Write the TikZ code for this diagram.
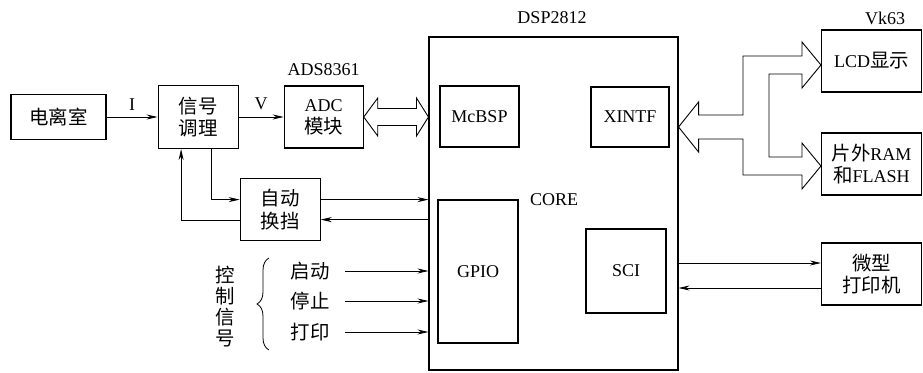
\documentclass[tikz,border=0pt]{standalone}
\usepackage{fontspec}
\setmainfont{Liberation Serif}
\newfontfamily\cjk{Noto Sans CJK SC}[Scale=1.08]
\usetikzlibrary{positioning,arrows.meta,decorations.pathreplacing}

\begin{document}
\begin{tikzpicture}[
  x=1pt, y=-1pt,
  font=\fontsize{18}{22}\selectfont,
  box/.style={draw, line width=1.1pt, align=center, inner sep=2pt},
  cn/.style={font=\fontsize{18}{22}\selectfont\cjk},
  arr/.style={-{Stealth[length=11pt,width=5pt]}, line width=0.8pt},
  bus/.style={draw, line width=0.9pt, line join=miter},
  ctlbrace/.style={decorate, decoration={brace, amplitude=12pt}, line width=0.8pt}
]
\useasboundingbox (0,0) rectangle (923,372);

% signal chain
\node[box, cn, minimum width=95pt, minimum height=45pt] (ion) at (58.5,117) {电离室};
\node[box, cn, minimum width=80pt, minimum height=63pt, right=51pt of ion] (cond) {信号\\调理};
\node[box, minimum width=79pt, minimum height=62pt, right=45pt of cond] (adc) {ADC\\{\cjk 模块}};
\node[above=6pt of adc] (adslbl) {ADS8361};
\node[box, cn, minimum width=80pt, minimum height=62pt, below right=29pt and 1pt of cond] (auto) {自动\\换挡};

% DSP
\node[box, minimum width=249pt, minimum height=333pt] (dsp) at (553.5,203.5) {};
\node (dsplbl) at (552,18) {DSP2812};
\node[box, minimum width=79pt, minimum height=61pt] (mcbsp) at (479.5,116.5) {McBSP};
\node[box, minimum width=78pt, minimum height=60pt] (xintf) at (630,117) {XINTF};
\node[box, minimum width=80pt, minimum height=143pt] (gpio) at (478,271.5) {GPIO};
\node[box, minimum width=80pt, minimum height=84pt] (sci) at (626,271) {SCI};
\node[right=8pt of gpio.north east] (core) {CORE};

% peripherals
\node[box, minimum width=100pt, minimum height=62pt] (lcd) at (871.5,61) {LCD{\cjk 显示}};
\node (vklbl) at (885,18) {Vk63};
\node[box, minimum width=100pt, minimum height=62pt] (ram) at (871.5,164) {{\cjk 片外}RAM\\{\cjk 和}FLASH};
\node[box, cn, minimum width=100pt, minimum height=62pt] (prn) at (871.5,274) {微型\\打印机};

% control signals
\node[cn, align=center, font=\fontsize{18}{21}\selectfont\cjk] (ctl) at (225,307) {控\\制\\信\\号};
\node[cn] (st) at (310,271) {启动};
\node[cn] (sp) at (310,301) {停止};
\node[cn] (pr) at (310,332) {打印};
\draw[ctlbrace] (269,350) -- (269,258);

\draw[arr] (ion) -- (cond) node[midway, above=3pt] {I};
\draw[arr] (cond) -- (adc) node[midway, above=3pt] {V};
\draw[arr] ([xshift=13pt]cond.south) |- ([yshift=10pt]auto.west);
\draw[arr] ([yshift=-11pt]auto.west) -| ([xshift=-17pt]cond.south);

\coordinate (a1) at ([yshift=10pt]auto.east);
\coordinate (a2) at ([yshift=-10pt]auto.east);
\draw[arr] (a1) -- (a1 -| dsp.west);
\draw[arr] (a2 -| dsp.west) -- (a2);

\draw[arr] ([xshift=12pt]st.east) -- (st -| dsp.west);
\draw[arr] ([xshift=12pt]sp.east) -- (sp -| dsp.west);
\draw[arr] ([xshift=12pt]pr.east) -- (pr -| dsp.west);

\coordinate (p1) at ([yshift=11pt]prn.west);
\coordinate (p2) at ([yshift=-14pt]prn.west);
\draw[arr] (p1 -| dsp.east) -- (p1);
\draw[arr] (p2) -- (p2 -| dsp.east);

% hollow buses
\coordinate (busL) at (adc.east);
\coordinate (busR) at (dsp.west |- adc.east);
\draw[bus] (busL) -- ++(14,-19) -- ++(0,10.5) -- ([shift={(-12,-8.5)}]busR) -- ++(0,-10.5)
  -- (busR) -- ++(-12,19) -- ++(0,-10.5) -- ([shift={(14,8.5)}]busL) -- ++(0,10.5) -- cycle;

\coordinate (xb) at (dsp.east |- 0,127);
\coordinate (lb) at ([yshift=-4pt]lcd.west);
\coordinate (rb) at ([yshift=-2pt]ram.west);
\draw[bus] (xb) -- ++(20,-25) -- ++(0,13) -| (743,56) -- ([shift={(-19,-9)}]lb) -- ++(0,-14)
  -- (lb) -- ++(-19,23) -- ++(0,-14) -| (769,157) -- ([shift={(-19,-9)}]rb) -- ++(0,-14)
  -- (rb) -- ++(-19,23) -- ++(0,-14) -| (743,139) -- ([shift={(20,12)}]xb) -- ++(0,13) -- cycle;
\end{tikzpicture}
\end{document}
